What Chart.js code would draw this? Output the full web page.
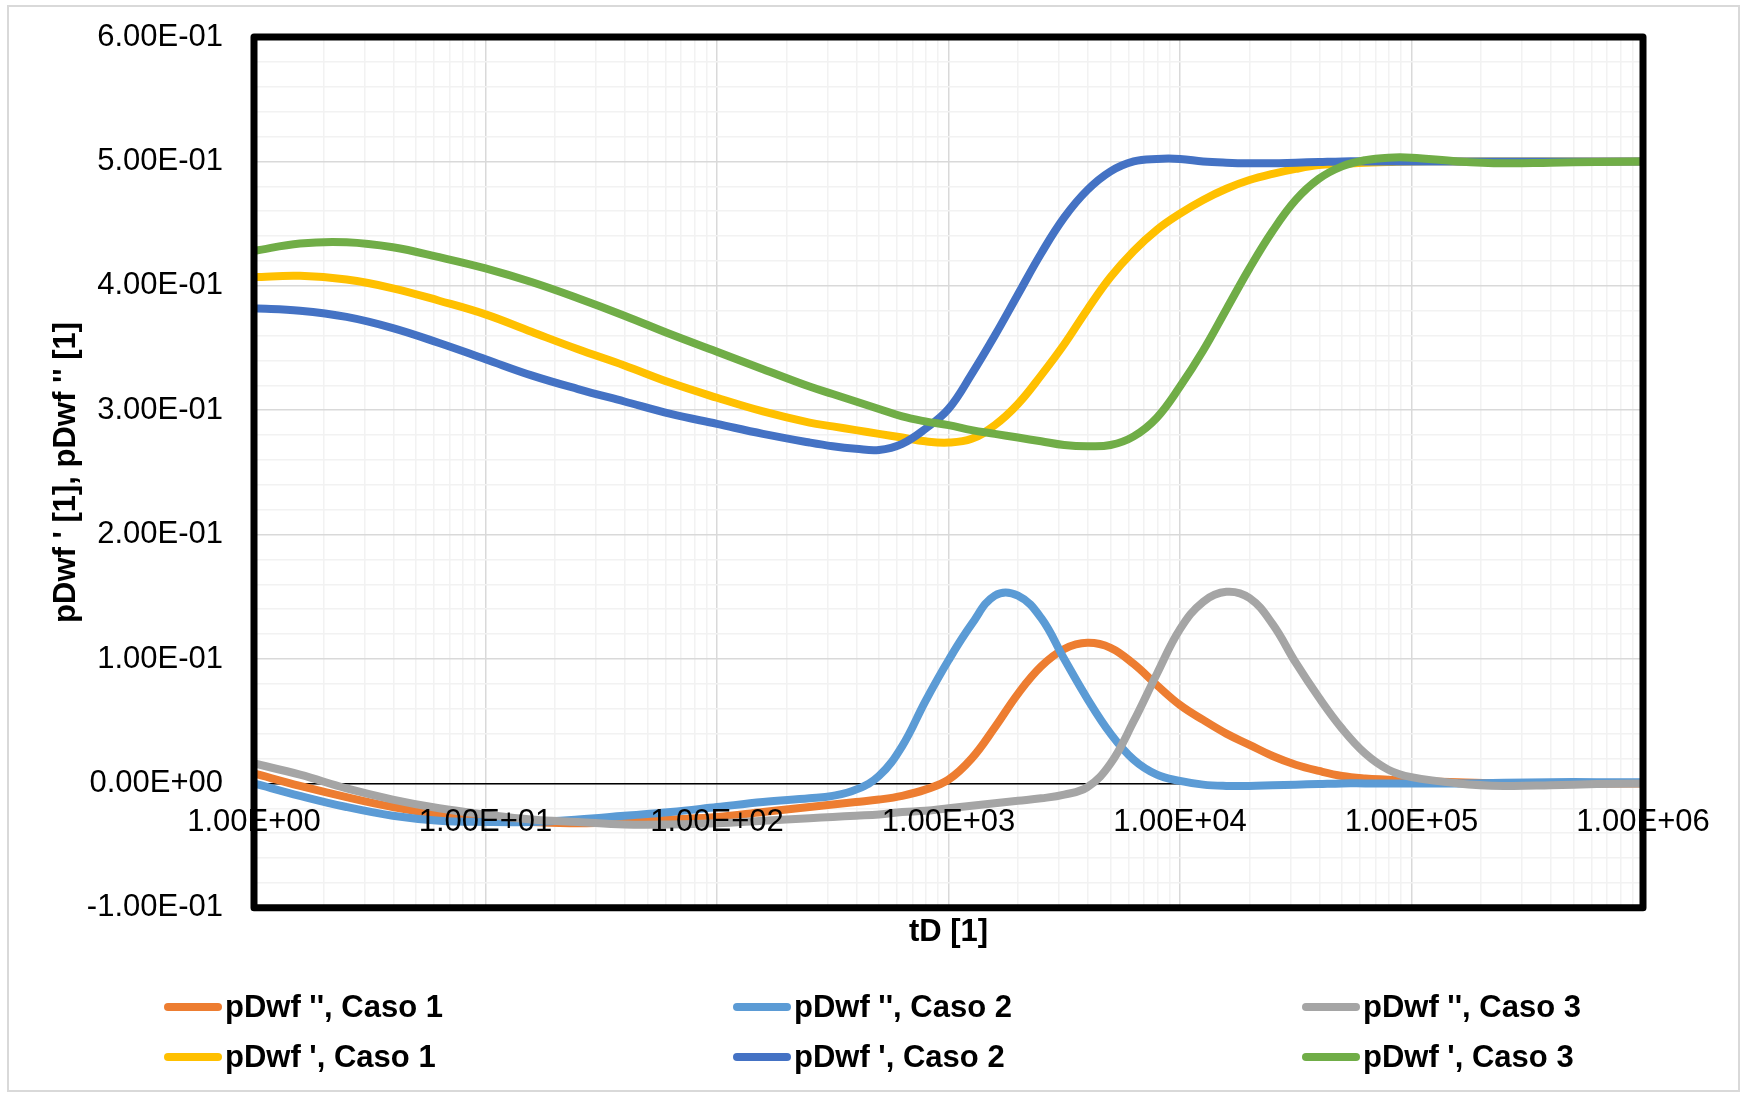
<!DOCTYPE html>
<html lang="es">
<head>
<meta charset="utf-8">
<title>pDwf</title>
<script src="https://cdn.jsdelivr.net/npm/chart.js@4.4.1/dist/chart.umd.min.js"></script>
<style>
  body { margin: 0; background: #fff; }
  #box { position: relative; width: 1741px; height: 1094px; overflow: hidden; }
  #frame { position: absolute; left: 7px; top: 5px; width: 1733px; height: 1087px; box-sizing: border-box; border: 2px solid #d9d9d9; pointer-events: none; }
  #myChart { position: absolute; left: 0; top: 0; }
  .leg { position: absolute; height: 40px; display: flex; align-items: center; font: bold 31px "Liberation Sans", Arial, sans-serif; color: #000; white-space: pre; }
  .leg .ln { display: inline-block; width: 58px; height: 8px; border-radius: 4px; margin-right: 3px; }
</style>
</head>
<body>
<div id="box">
  <div id="frame"></div>
  <canvas id="myChart" width="1741" height="1094"></canvas>
  <div id="legend"></div>
</div>
<script>
// tiempo adimensional (eje x, log)
const tD = [1, 1.58, 2.51, 3.98, 6.31, 10, 15.8, 25.1, 39.8, 63.1, 100, 158, 251, 316, 398, 501, 631, 794, 1000, 1259,
    1585, 1995, 2512, 3162, 3981, 5012, 6310, 7943, 10000, 12589, 15849, 19953, 25119, 31623, 39811, 50119, 63096, 79433,
    100000, 158489, 251189, 398107, 630957, 1000000];

// pDwf '' (segunda derivada)
const pDwf2_caso1 = [0.008, -0.002, -0.011, -0.019, -0.025, -0.029, -0.031, -0.032, -0.031, -0.029, -0.027, -0.023, -0.019, -0.017, -0.015, -0.013, -0.010, -0.005, 0.003, 0.020,
    0.045, 0.072, 0.094, 0.108, 0.113, 0.109, 0.096, 0.079, 0.063, 0.051, 0.040, 0.031, 0.022, 0.015, 0.010, 0.006, 0.004, 0.003,
    0.002, 0.001, 0, 0, 0, 0];
const pDwf2_caso2 = [0.0, -0.010, -0.019, -0.026, -0.030, -0.031, -0.031, -0.029, -0.026, -0.023, -0.019, -0.015, -0.012, -0.010, -0.005, 0.006, 0.030, 0.066, 0.099, 0.128,
    0.151, 0.151, 0.133, 0.100, 0.068, 0.040, 0.019, 0.007, 0.002, -0.001, -0.002, -0.002, -0.0015, -0.001, -0.0005, 0, 0, 0,
    0, 0, 0.0005, 0.001, 0.001, 0.001];
const pDwf2_caso3 = [0.016, 0.007, -0.004, -0.013, -0.020, -0.025, -0.029, -0.031, -0.033, -0.033, -0.032, -0.030, -0.028, -0.027, -0.026, -0.025, -0.023, -0.022, -0.020, -0.018,
    -0.016, -0.014, -0.012, -0.009, -0.003, 0.016, 0.050, 0.088, 0.124, 0.146, 0.154, 0.149, 0.128, 0.097, 0.069, 0.044, 0.024, 0.011,
    0.005, 0.0, -0.002, -0.0015, -0.0005, 0.0];

// pDwf ' (primera derivada)
const pDwf1_caso1 = [0.407, 0.408, 0.405, 0.398, 0.388, 0.377, 0.363, 0.349, 0.336, 0.322, 0.310, 0.299, 0.290, 0.287, 0.284, 0.281, 0.278, 0.275, 0.274, 0.277,
    0.288, 0.305, 0.328, 0.353, 0.381, 0.407, 0.428, 0.445, 0.458, 0.469, 0.478, 0.485, 0.490, 0.494, 0.497, 0.498, 0.499, 0.4995,
    0.5, 0.5, 0.5, 0.5, 0.5, 0.5];
const pDwf1_caso2 = [0.382, 0.380, 0.375, 0.366, 0.354, 0.341, 0.328, 0.317, 0.307, 0.297, 0.289, 0.281, 0.274, 0.271, 0.269, 0.268, 0.273, 0.285, 0.301, 0.329,
    0.360, 0.393, 0.426, 0.455, 0.477, 0.492, 0.500, 0.502, 0.502, 0.500, 0.499, 0.4985, 0.4985, 0.499, 0.4995, 0.5, 0.5, 0.5,
    0.5, 0.5, 0.5, 0.5, 0.5, 0.5];
const pDwf1_caso3 = [0.428, 0.434, 0.435, 0.431, 0.423, 0.414, 0.403, 0.390, 0.376, 0.361, 0.347, 0.333, 0.319, 0.313, 0.307, 0.301, 0.295, 0.291, 0.288, 0.284,
    0.281, 0.278, 0.275, 0.272, 0.271, 0.272, 0.279, 0.294, 0.319, 0.348, 0.381, 0.414, 0.444, 0.469, 0.486, 0.496, 0.501, 0.503,
    0.503, 0.500, 0.4985, 0.499, 0.4995, 0.5];

const seriesNames = ["pDwf '', Caso 1", "pDwf '', Caso 2", "pDwf '', Caso 3", "pDwf ', Caso 1", "pDwf ', Caso 2", "pDwf ', Caso 3"];
const seriesData = [pDwf2_caso1, pDwf2_caso2, pDwf2_caso3, pDwf1_caso1, pDwf1_caso2, pDwf1_caso3];
const seriesColors = ['#ED7D31', '#5B9BD5', '#A5A5A5', '#FFC000', '#4472C4', '#70AD47'];

// ejes
const xDecades = [1, 10, 100, 1000, 10000, 100000, 1000000];
const xMinorFactors = [2, 3, 4, 5, 6, 7, 8, 9];
const yMin = -0.1, yMax = 0.6, yMajorStep = 0.1, yMinorStep = 0.02;
const xTitle = 'tD [1]';
const yTitle = "pDwf ' [1], pDwf '' [1]";

Chart.defaults.font.family = '"Liberation Sans", Arial, sans-serif';
Chart.defaults.color = '#000';

// formato tipo Excel 6.00E-01
function sci(v) {
    if (Math.abs(v) < 1e-12) return '0.00E+00';
    var e = Math.floor(Math.log10(Math.abs(v)) + 1e-9);
    var m = v / Math.pow(10, e);
    return m.toFixed(2) + 'E' + (e < 0 ? '-' : '+') + String(Math.abs(e)).padStart(2, '0');
}
function isMajorX(v) {
    var l = Math.log10(v);
    return Math.abs(l - Math.round(l)) < 1e-9;
}
function isMajorY(v) {
    return Math.abs(v / yMajorStep - Math.round(v / yMajorStep)) < 1e-6;
}

var xTickValues = [];
xDecades.forEach(function (d, i) {
    xTickValues.push(d);
    if (i < xDecades.length - 1) {
        xMinorFactors.forEach(function (f) { xTickValues.push(d * f); });
    }
});
var yTickValues = [];
var nY = Math.round((yMax - yMin) / yMinorStep);
for (let i = 0; i <= nY; i++) {
    yTickValues.push(+(yMin + i * yMinorStep).toFixed(4));
}

// borde negro grueso del area de trazado
const plotBorder = {
    id: 'plotBorder',
    afterDraw(chart) {
        const a = chart.chartArea;
        const ctx = chart.ctx;
        ctx.save();
        ctx.strokeStyle = '#000';
        ctx.lineWidth = 7;
        ctx.lineJoin = 'round';
        ctx.strokeRect(a.left, a.top, a.right - a.left, a.bottom - a.top);
        ctx.restore();
    }
};

const datasets = seriesNames.map(function (name, i) {
    return {
        label: name,
        data: tD.map(function (t, j) { return { x: t, y: seriesData[i][j] }; }),
        borderColor: seriesColors[i],
        backgroundColor: seriesColors[i],
        borderWidth: 8,
        pointRadius: 0,
        fill: false,
        tension: 0.4,
        borderCapStyle: 'round',
        borderJoinStyle: 'round',
        order: seriesNames.length - i
    };
});

const ctx = document.getElementById('myChart').getContext('2d');
const myChart = new Chart(ctx, {
    type: 'line',
    data: { datasets: datasets },
    options: {
        responsive: false,
        animation: false,
        events: [],
        layout: { padding: { left: 0, right: 98, top: 37, bottom: 143 } },
        plugins: {
            legend: { display: false },
            tooltip: { enabled: false },
            title: {
                display: true, text: xTitle, position: 'bottom', fullSize: false, color: '#000',
                font: { size: 31, weight: 'bold' }, padding: { top: 6, bottom: 0 }
            }
        },
        scales: {
            x: {
                type: 'logarithmic',
                min: 1, max: 1000000,
                position: { y: 0 },
                afterBuildTicks: function (s) {
                    s.ticks = xTickValues.map(function (v) { return { value: v, major: false }; });
                },
                ticks: {
                    autoSkip: false, maxRotation: 0, minRotation: 0, padding: 20, z: 1,
                    color: '#000', font: { size: 31 },
                    callback: function (v) { return isMajorX(v) ? sci(v) : ''; }
                },
                grid: {
                    drawTicks: false,
                    color: function (c) { return c.tick && isMajorX(c.tick.value) ? '#d9d9d9' : '#f2f2f2'; },
                    lineWidth: 1.5
                },
                border: { display: true, color: '#000', width: 1.5 }
            },
            y: {
                type: 'linear',
                min: yMin, max: yMax,
                afterBuildTicks: function (s) {
                    s.ticks = yTickValues.map(function (v) { return { value: v }; });
                },
                afterFit: function (s) {
                    s.width = 254;
                    // sin relleno extra arriba/abajo para que el area empiece en y=37
                    s.paddingTop = 0;
                    s.paddingBottom = 0;
                },
                ticks: {
                    autoSkip: false, padding: 31, color: '#000', font: { size: 31 },
                    callback: function (v) { return isMajorY(v) ? sci(v) : ''; }
                },
                grid: {
                    drawTicks: false,
                    color: function (c) { return c.tick && isMajorY(c.tick.value) ? '#d9d9d9' : '#f2f2f2'; },
                    lineWidth: 1.5
                },
                border: { display: false },
                title: {
                    display: true, text: yTitle, color: '#000',
                    font: { size: 31, weight: 'bold' }, padding: { top: 48, bottom: 0 }
                }
            }
        }
    },
    plugins: [plotBorder]
});

// leyenda en html, 3 columnas x 2 filas
var legCols = [164, 733, 1302];
var legRows = [987, 1037];
var legend = document.getElementById('legend');
seriesNames.forEach(function (name, i) {
    var item = document.createElement('div');
    item.className = 'leg';
    item.style.left = legCols[i % 3] + 'px';
    item.style.top = legRows[Math.floor(i / 3)] + 'px';
    var ln = document.createElement('span');
    ln.className = 'ln';
    ln.style.background = seriesColors[i];
    item.appendChild(ln);
    item.appendChild(document.createTextNode(name));
    legend.appendChild(item);
});
</script>
</body>
</html>
